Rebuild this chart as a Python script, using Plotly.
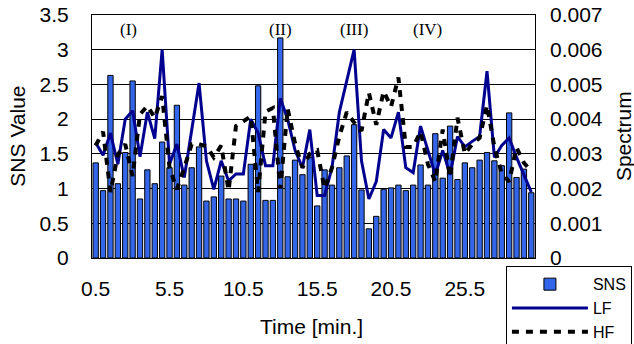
import plotly.graph_objects as go

time_min = [0.5, 1.0, 1.5, 2.0, 2.5, 3.0, 3.5, 4.0, 4.5, 5.0,
            5.5, 6.0, 6.5, 7.0, 7.5, 8.0, 8.5, 9.0, 9.5, 10.0,
            10.5, 11.0, 11.5, 12.0, 12.5, 13.0, 13.5, 14.0, 14.5, 15.0,
            15.5, 16.0, 16.5, 17.0, 17.5, 18.0, 18.5, 19.0, 19.5, 20.0,
            20.5, 21.0, 21.5, 22.0, 22.5, 23.0, 23.5, 24.0, 24.5, 25.0,
            25.5, 26.0, 26.5, 27.0, 27.5, 28.0, 28.5, 29.0, 29.5, 30.0]

sns = [1.37, 0.97, 2.63, 1.07, 1.52, 2.55, 0.85, 1.27, 1.07, 1.67,
       1.30, 2.20, 1.05, 1.30, 1.60, 0.82, 0.88, 1.18, 0.85, 0.85,
       0.82, 1.35, 2.48, 0.83, 0.83, 3.17, 1.17, 1.41, 1.20, 1.45,
       0.75, 1.27, 1.05, 1.30, 1.47, 1.92, 0.98, 0.42, 0.60, 0.99,
       1.01, 1.05, 0.97, 1.05, 1.34, 1.05, 1.79, 1.15, 1.90, 1.13,
       1.37, 1.30, 1.41, 1.52, 1.40, 1.33, 2.09, 1.16, 1.28, 0.94]

lf = [0.00332, 0.00296, 0.00360, 0.00270, 0.00400, 0.00424, 0.00292, 0.00420, 0.00344, 0.00600,
      0.00270, 0.00328, 0.00232, 0.00366, 0.00504, 0.00280, 0.00198, 0.00280, 0.00222, 0.00242,
      0.00242, 0.00400, 0.00360, 0.00266, 0.00266, 0.00460, 0.00400, 0.00310, 0.00260, 0.00370,
      0.00180, 0.00180, 0.00260, 0.00420, 0.00510, 0.00600, 0.00280, 0.00170, 0.00220, 0.00370,
      0.00346, 0.00420, 0.00260, 0.00246, 0.00380, 0.00310, 0.00240, 0.00310, 0.00240, 0.00350,
      0.00320, 0.00336, 0.00350, 0.00538, 0.00290, 0.00324, 0.00346, 0.00290, 0.00240, 0.00190]

hf = [0.00324, 0.00364, 0.00190, 0.00298, 0.00328, 0.00236, 0.00414, 0.00438, 0.00404, 0.00466,
      0.00260, 0.00198, 0.00260, 0.00328, 0.00328, 0.00322, 0.00290, 0.00324, 0.00194, 0.00380,
      0.00394, 0.00408, 0.00190, 0.00422, 0.00432, 0.00200, 0.00430, 0.00330, 0.00260, 0.00300,
      0.00310, 0.00200, 0.00260, 0.00350, 0.00420, 0.00390, 0.00366, 0.00476, 0.00384, 0.00480,
      0.00436, 0.00520, 0.00320, 0.00320, 0.00364, 0.00270, 0.00220, 0.00370, 0.00232, 0.00404,
      0.00300, 0.00328, 0.00346, 0.00440, 0.00320, 0.00244, 0.00220, 0.00318, 0.00274, 0.00250]

x_ticks = [0.5, 5.5, 10.5, 15.5, 20.5, 25.5]
x_tick_text = ["0.5", "5.5", "10.5", "15.5", "20.5", "25.5"]
y_ticks = [0, 0.5, 1, 1.5, 2, 2.5, 3, 3.5]
y_tick_text = ["0", "0.5", "1", "1.5", "2", "2.5", "3", "3.5"]
y2_ticks = [0, 0.001, 0.002, 0.003, 0.004, 0.005, 0.006, 0.007]
y2_tick_text = ["0", "0.001", "0.002", "0.003", "0.004", "0.005", "0.006", "0.007"]

phase_labels = ["(I)", "(II)", "(III)", "(IV)"]
phase_times = [2.75, 13.0, 18.0, 23.0]
phase_y = 3.29

FONT = "Liberation Sans"

fig = go.Figure()
fig.add_trace(go.Bar(x=time_min, y=sns, name="SNS",
                     marker=dict(color="#3366e8", line=dict(color="black", width=1))))
fig.add_trace(go.Scatter(x=time_min, y=lf, name="LF", yaxis="y2", mode="lines",
                         line=dict(color="#000090", width=3)))
fig.add_trace(go.Scatter(x=time_min, y=hf, name="HF", yaxis="y2", mode="lines",
                         line=dict(color="black", width=4, dash="7px,7px")))

for lab, t in zip(phase_labels, phase_times):
    fig.add_annotation(x=t, y=phase_y, xref="x", yref="y", text=lab, showarrow=False,
                       font=dict(family="Liberation Serif", size=17, color="black"))

# axis titles
fig.add_annotation(x=-0.169, y=0.5, xref="paper", yref="paper", text="SNS Value",
                   textangle=-90, showarrow=False, xanchor="center", yanchor="middle",
                   font=dict(size=21))
fig.add_annotation(x=1.2, y=0.5, xref="paper", yref="paper", text="Spectrum",
                   textangle=-90, showarrow=False, xanchor="center", yanchor="middle",
                   font=dict(size=21))
fig.add_annotation(x=0.496, y=-0.28, xref="paper", yref="paper", text="Time [min.]",
                   showarrow=False, xanchor="center", yanchor="middle",
                   font=dict(size=21))

fig.update_layout(
    width=634, height=344,
    margin=dict(l=92, r=99, t=15, b=86, autoexpand=False),
    paper_bgcolor="white", plot_bgcolor="white",
    bargap=0.28,
    font=dict(family=FONT, size=21, color="black"),
    showlegend=True,
    legend=dict(xref="container", yref="container", x=0.798, y=0.226,
                xanchor="left", yanchor="top",
                bordercolor="black", borderwidth=1, bgcolor="white",
                font=dict(family=FONT, size=16), itemwidth=76,
                tracegroupgap=0),
    xaxis=dict(range=[0.25, 30.25], tickvals=x_ticks, ticktext=x_tick_text,
               showgrid=False, zeroline=False, showline=True, linecolor="black",
               mirror=True, ticks="", ticklabelstandoff=12, automargin=False),
    yaxis=dict(range=[0, 3.5], tickvals=y_ticks, ticktext=y_tick_text,
               showgrid=True, gridcolor="black", gridwidth=1, zeroline=False,
               showline=True, linecolor="black", mirror=True, ticks="",
               ticklabelstandoff=18, automargin=False),
    yaxis2=dict(range=[0, 0.007], tickvals=y2_ticks, ticktext=y2_tick_text,
                overlaying="y", side="right", showgrid=False, zeroline=False,
                showline=False, ticks="", ticklabelstandoff=14, automargin=False),
)

fig.write_html("out.html", config={"displayModeBar": False},
               post_script="document.body.style.margin='0px';")
